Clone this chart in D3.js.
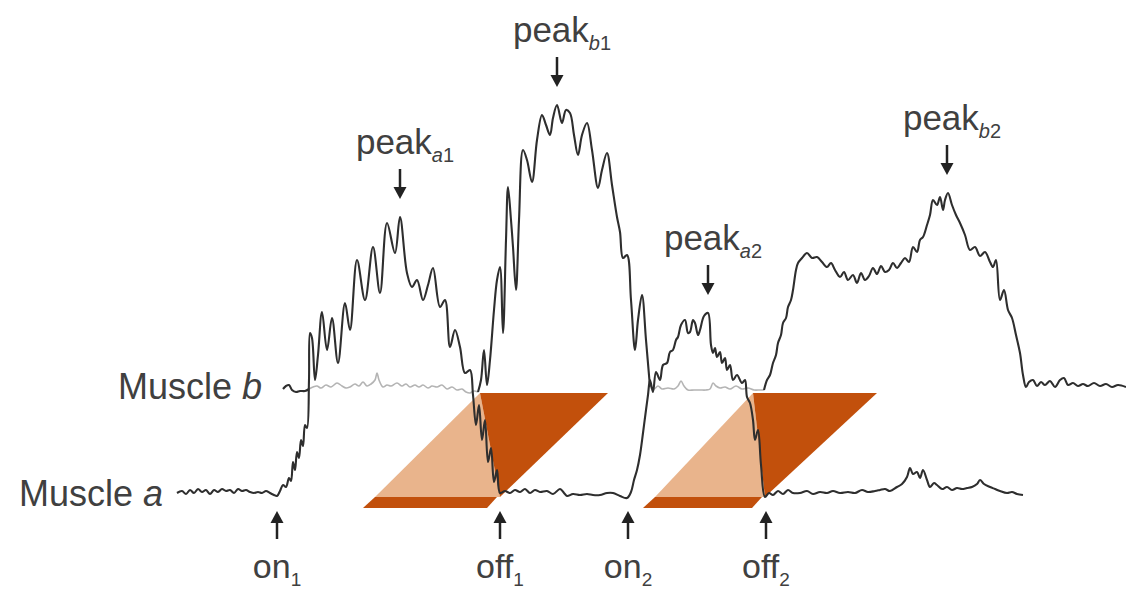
<!DOCTYPE html>
<html>
<head>
<meta charset="utf-8">
<script src="https://cdn.jsdelivr.net/npm/d3@7"></script>
<style>
  body { margin: 0; background: #fff; }
  svg text { font-family: "Liberation Sans", Arial, sans-serif; fill: #404040; }
</style>
</head>
<body>
<svg id="chart" width="1126" height="590"></svg>
<script>
// muscle a trace: [time (ms), amplitude]
var muscleA = [
  [2,0],[7,2],[11,-1],[15,3],[19,0],[23,4],[27,1],[31,3],[35,-1],[39,3],[43,1],[47,4],[51,2],[55,3],[59,0],[63,4],
  [67,2],[71,3],[75,1],[79,0],[83,1],[87,0],[91,2],[95,0],[99,-2],[102,-3],[105,2],[108,8],[111,6],[114,15],[116,12],
  [118,31],[120,23],[122,41],[124,35],[126,53],[128,47],[130,68],[132,65],[134,113],[135,160],[137,155],[140,113],
  [143,138],[147,181],[152,143],[157,175],[163,130],[170,190],[175,163],[182,233],[190,193],[198,246],[205,200],
  [212,270],[220,240],[225,276],[232,220],[237,206],[242,213],[248,193],[253,208],[258,225],[265,186],[270,193],
  [275,146],[280,163],[285,146],[290,120],[295,123],[298,98],[301,68],[304,88],[307,53],[310,73],[313,31],[316,45],
  [319,11],[322,23],[325,0],[330,2],[335,0],[340,3],[345,1],[350,4],[355,0],[360,3],[365,1],[372,2],[378,-1],[385,4],
  [389,0],[392,-3],[398,-1],[405,-2],[412,-1],[418,-2],[425,-2],[432,0],[438,0],[445,-3],[452,-5],[456,1],[459,13],
  [462,23],[465,38],[468,60],[471,83],[473,98],[475,113],[478,101],[481,121],[485,113],[488,128],[492,130],[495,141],
  [498,143],[501,153],[503,156],[506,168],[510,173],[513,160],[515,161],[518,173],[520,170],[523,158],[525,163],
  [529,177],[533,180],[536,148],[538,140],[540,145],[542,136],[545,141],[547,130],[550,135],[552,123],[555,128],
  [558,113],[562,118],[567,110],[570,113],[572,96],[575,90],[578,73],[580,53],[583,63],[586,28],[590,-4],[594,0],
  [598,-2],[603,2],[608,-1],[613,3],[618,0],[625,0],[632,2],[638,-1],[645,1],[652,0],[658,2],[665,0],[673,1],[680,0],
  [687,3],[693,1],[700,2],[705,3],[710,4],[715,2],[722,6],[727,9],[732,16],[735,25],[738,19],[742,21],[745,15],
  [748,23],[752,13],[755,6],[759,10],[762,8],[767,4],[772,6],[777,3],[782,5],[787,4],[792,5],[797,6],[802,9],
  [805,13],[809,9],[815,6],[820,4],[825,2],[832,0],[837,1],[842,-1],[848,-2]
];

// muscle b trace: [time (ms), amplitude]
var muscleB = [
  [108,-1],[111,2],[114,3],[117,-2],[121,-4],[125,-3],[130,-3],[134,-1],[138,1],[142,2],[146,0],[151,3],[156,1],
  [162,5],[167,2],[171,0],[175,1],[180,4],[184,2],[188,6],[192,2],[196,4],[200,8],[202,15],[204,8],[208,1],[212,3],
  [216,2],[222,5],[227,2],[231,4],[235,1],[240,3],[244,1],[248,3],[253,0],[257,2],[262,1],[267,3],[272,-1],[277,1],
  [282,-2],[287,-1],[291,-4],[295,-5],[299,-3],[303,-4],[306,8],[309,38],[312,3],[315,28],[319,78],[322,108],
  [325,121],[328,55],[331,148],[333,201],[336,168],[338,141],[341,98],[344,168],[348,238],[352,228],[357,206],
  [362,248],[367,273],[371,263],[375,253],[378,270],[382,283],[387,265],[391,278],[395,275],[399,253],[403,233],
  [407,253],[412,265],[417,238],[423,200],[427,218],[432,235],[437,203],[442,171],[445,156],[448,130],[452,133],
  [456,88],[460,38],[463,68],[467,93],[471,48],[475,1],[479,-1],[483,2],[487,-1],[493,0],[499,-1],[503,2],[506,7],
  [509,2],[513,-2],[519,-2],[525,-2],[531,-2],[535,-1],[538,5],[541,2],[545,0],[550,1],[555,-1],[561,2],[567,-1],
  [573,0],[579,-2],[585,-2],[589,-2],[592,8],[595,13],[598,25],[601,33],[603,45],[606,53],[608,65],[611,70],
  [613,81],[616,88],[618,98],[621,118],[623,125],[627,130],[632,135],[637,130],[642,131],[647,126],[652,121],
  [656,125],[660,118],[665,111],[669,116],[673,108],[678,113],[682,105],[686,115],[690,108],[694,112],[698,120],
  [702,114],[706,122],[710,116],[714,118],[718,125],[722,120],[726,125],[730,130],[734,126],[738,141],[742,136],
  [745,148],[748,151],[752,163],[755,173],[758,188],[762,183],[765,191],[768,178],[770,188],[773,195],[777,183],
  [781,173],[785,165],[790,153],[795,138],[800,141],[805,132],[810,136],[815,126],[818,121],[821,128],[825,88],
  [829,98],[833,78],[837,70],[841,53],[845,35],[848,13],[851,1],[854,6],[858,8],[862,2],[866,6],[870,3],[875,7],
  [880,1],[885,8],[889,10],[893,3],[898,5],[903,2],[908,4],[913,2],[919,5],[925,2],[931,4],[937,1],[943,3],[951,1]
];

// stretches of muscle b drawn faint (while muscle a is active)
var bFaint = [[135, 303], [479, 590]];

// onsets / offsets of muscle a
var events = ["on", "off", "on", "off"];
var eventIdx = ["1", "1", "2", "2"];
var eventTimes = [102, 325, 453, 591];

// peaks
var peakMuscle = ["a", "b", "a", "b"];
var peakIdx = ["1", "1", "2", "2"];
var peakTimes = [225, 382, 533, 772];
var peakAmps = [276, 283, 180, 195];

// co-contraction windows
var lightStart = [200, 480];
var offTime = [325, 590];
var topStart = [305, 578];
var topEnd = [433, 702];

var svg = d3.select("#chart"),
  width = +svg.attr("width"),
  height = +svg.attr("height");

var x = d3.scaleLinear().domain([0, 951]).range([175, 1126]);
var yA = d3.scaleLinear().domain([0, 300]).range([493, 193]);
var yB = d3.scaleLinear().domain([0, 300]).range([388, 88]);

var dark = "#c2500c", light = "#e9b48c";

function pts(arr) {
  return arr.map(function(p) { return x(p[0]) + "," + yA(p[1]); }).join(" ");
}

// orange shapes
var g = svg.append("g");
for (var i = 0; i < lightStart.length; i++) {
  var ls = lightStart[i], off = offTime[i], ts = topStart[i], te = topEnd[i];
  var topAmp = 100, baseAmp = -4, stripAmp = -15;
  g.append("polygon").attr("points", pts([[ls, baseAmp], [ts, topAmp], [off, baseAmp]])).attr("fill", light);
  g.append("polygon").attr("points", pts([[ts, topAmp], [te, topAmp], [off, baseAmp]])).attr("fill", dark);
  g.append("polygon").attr("points", pts([[ls - 12, stripAmp], [ls, baseAmp], [off - 3, baseAmp], [off - 13, stripAmp]])).attr("fill", dark);
}

var lineA = d3.line().x(function(d) { return x(d[0]); }).y(function(d) { return yA(d[1]); }).curve(d3.curveCatmullRom.alpha(0.5));
var lineB = d3.line().x(function(d) { return x(d[0]); }).y(function(d) { return yB(d[1]); }).curve(d3.curveCatmullRom.alpha(0.5));

function inFaint(t) {
  return bFaint.some(function(w) { return t >= w[0] && t <= w[1]; });
}

// split muscle b into faint / dark runs
var runs = [], cur = null;
muscleB.forEach(function(d) {
  var f = inFaint(d[0]);
  if (!cur || cur.faint !== f) {
    var p = cur ? [cur.pts[cur.pts.length - 1]] : [];
    cur = { faint: f, pts: p };
    runs.push(cur);
  }
  cur.pts.push(d);
});

svg.append("g").selectAll("path").data(runs).enter().append("path")
  .attr("d", function(r) { return lineB(r.pts); })
  .attr("fill", "none")
  .attr("stroke", function(r) { return r.faint ? "#b4b4b4" : "#2e2e2e"; })
  .attr("stroke-width", function(r) { return r.faint ? 1.6 : 2.1; })
  .attr("stroke-linejoin", "round");

svg.append("path")
  .attr("d", lineA(muscleA))
  .attr("fill", "none")
  .attr("stroke", "#2e2e2e")
  .attr("stroke-width", 2.1)
  .attr("stroke-linejoin", "round");

// labels
var lb = svg.append("text").attr("x", 262).attr("y", 399).attr("text-anchor", "end").style("font-size", "36px");
lb.append("tspan").text("Muscle ");
lb.append("tspan").style("font-style", "italic").text("b");
var la = svg.append("text").attr("x", 163).attr("y", 506).attr("text-anchor", "end").style("font-size", "36px");
la.append("tspan").text("Muscle ");
la.append("tspan").style("font-style", "italic").text("a");

function arrow(xp, y0, y1) {
  // from y0 (tail) to y1 (tip)
  var dir = y1 > y0 ? 1 : -1;
  svg.append("line").attr("x1", xp).attr("x2", xp).attr("y1", y0).attr("y2", y1 - dir * 8)
    .attr("stroke", "#222").attr("stroke-width", 2.5);
  svg.append("polygon")
    .attr("points", [[xp - 6.5, y1 - dir * 12], [xp + 6.5, y1 - dir * 12], [xp, y1]].map(function(p) { return p.join(","); }).join(" "))
    .attr("fill", "#222");
}

// event arrows
eventTimes.forEach(function(t, k) {
  var xp = x(t);
  arrow(xp, 539, 511);
  var tx = svg.append("text").attr("x", xp).attr("y", 578).attr("text-anchor", "middle").style("font-size", "34px");
  tx.append("tspan").text(events[k]);
  tx.append("tspan").attr("dy", 8).style("font-size", "19px").text(eventIdx[k]);
});

// peak arrows
peakTimes.forEach(function(t, k) {
  var xp = x(t);
  var yp = (peakMuscle[k] === "a" ? yA : yB)(peakAmps[k]);
  var tip = yp - 18, tail = tip - 30;
  arrow(xp, tail, tip);
  var tx = svg.append("text").attr("x", xp + 5).attr("y", tail - 15).attr("text-anchor", "middle").style("font-size", "35px");
  tx.append("tspan").text("peak");
  tx.append("tspan").attr("dy", 8).style("font-size", "20px").style("font-style", "italic").text(peakMuscle[k]);
  tx.append("tspan").style("font-size", "20px").text(peakIdx[k]);
});
</script>
</body>
</html>
